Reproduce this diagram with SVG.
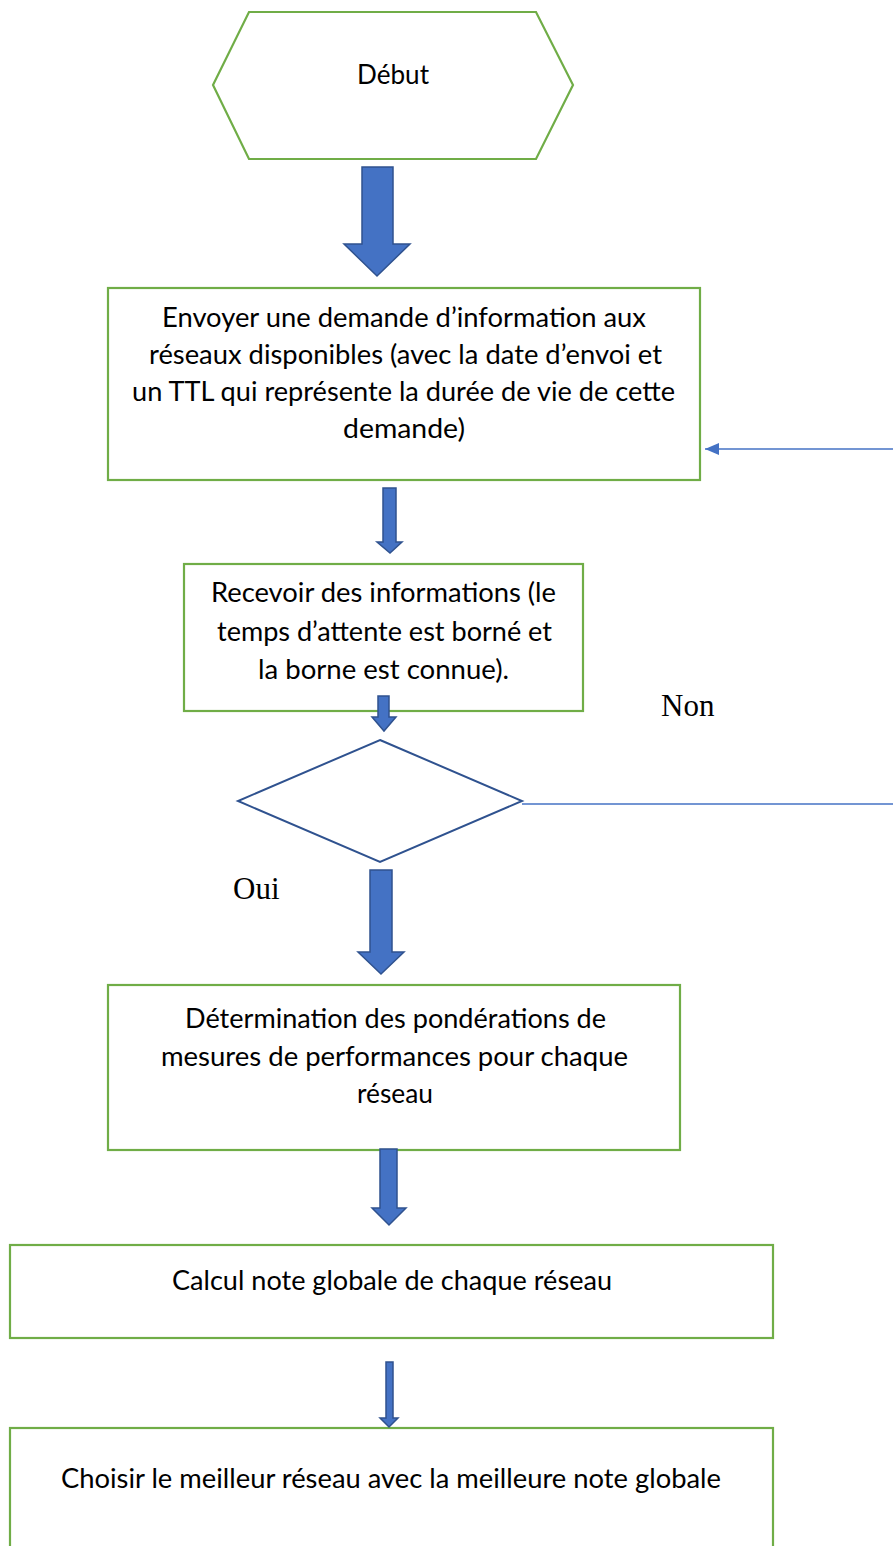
<svg xmlns="http://www.w3.org/2000/svg" width="893" height="1546" viewBox="0 0 893 1546">
<style>
.node{fill:#FFFFFF;stroke:#70AD47;stroke-width:2.2}
.dec{fill:#FFFFFF;stroke:#2F528F;stroke-width:2}
.blk{fill:#4472C4;stroke:#2F528F;stroke-width:1.5;stroke-linejoin:miter}
.lnk{fill:none;stroke:#4472C4;stroke-width:1.5}
.t{font-family:Lato,"Open Sans",sans-serif;font-size:26px;fill:#000000;text-anchor:middle}
.s{font-family:"Liberation Serif","Times New Roman",serif;font-size:31px;fill:#000000}
</style>
<defs>
<marker id="ah" markerUnits="userSpaceOnUse" markerWidth="14" markerHeight="12" refX="14" refY="6" orient="auto">
<path d="M0,0 L14,6 L0,12 Z" fill="#4472C4"/>
</marker>
</defs>
<rect width="893" height="1546" fill="#FFFFFF"/>
<g id="debut">
<polygon class="node" points="249,12 536,12 573,85 536,159 249,159 213,85"/>
<text class="t" x="393" y="84" textLength="72" lengthAdjust="spacingAndGlyphs">Début</text>
</g>
<g id="envoyer">
<rect class="node" x="108" y="288" width="592" height="192"/>
<text class="t" x="404" y="327" textLength="484" lengthAdjust="spacingAndGlyphs">Envoyer une demande d’information aux</text>
<text class="t" x="405.5" y="364" textLength="513" lengthAdjust="spacingAndGlyphs">réseaux disponibles (avec la date d’envoi et</text>
<text class="t" x="403.5" y="401" textLength="543" lengthAdjust="spacingAndGlyphs">un TTL qui représente la durée de vie de cette</text>
<text class="t" x="404" y="438" textLength="122" lengthAdjust="spacingAndGlyphs">demande)</text>
</g>
<g id="recevoir">
<rect class="node" x="184" y="564" width="399" height="147"/>
<text class="t" x="383.5" y="602" textLength="345" lengthAdjust="spacingAndGlyphs">Recevoir des informations (le</text>
<text class="t" x="384.5" y="641" textLength="335" lengthAdjust="spacingAndGlyphs">temps d’attente est borné et</text>
<text class="t" x="383.5" y="679" textLength="251" lengthAdjust="spacingAndGlyphs">la borne est connue).</text>
</g>
<g id="decision">
<polygon class="dec" points="380,740 522,801 380,862 238,801"/>
</g>
<g id="ponderations">
<rect class="node" x="108" y="985" width="572" height="165"/>
<text class="t" x="395.5" y="1028" textLength="421" lengthAdjust="spacingAndGlyphs">Détermination des pondérations de</text>
<text class="t" x="394.5" y="1066" textLength="467" lengthAdjust="spacingAndGlyphs">mesures de performances pour chaque</text>
<text class="t" x="395" y="1103" textLength="76" lengthAdjust="spacingAndGlyphs">réseau</text>
</g>
<g id="calcul">
<rect class="node" x="10" y="1245" width="763" height="93"/>
<text class="t" x="392" y="1290" textLength="440" lengthAdjust="spacingAndGlyphs">Calcul note globale de chaque réseau</text>
</g>
<g id="choisir">
<rect class="node" x="10" y="1428" width="763" height="140"/>
<text class="t" x="391" y="1488" textLength="660" lengthAdjust="spacingAndGlyphs">Choisir le meilleur réseau avec la meilleure note globale</text>
</g>
<g id="connectors">
<polygon class="blk" points="362,167 393,167 393,244 410,244 377,276 344,244 362,244"/>
<polygon class="blk" points="383,488 396,488 396,542 402,542 390,553 377,542 383,542"/>
<polygon class="blk" points="378,696 389,696 389,717 396,717 384,731 372,717 378,717"/>
<polygon class="blk" points="370,870 392,870 392,952 404,952 381,974 358,952 370,952"/>
<polygon class="blk" points="380,1149 397,1149 397,1208 406,1208 389,1225 372,1208 380,1208"/>
<polygon class="blk" points="386,1362 393,1362 393,1418 398,1418 389,1427 380,1418 386,1418"/>
<line class="lnk" x1="893" y1="449" x2="705" y2="449" marker-end="url(#ah)"/>
<line class="lnk" x1="522" y1="804" x2="893" y2="804"/>
<text class="s" x="661" y="716">Non</text>
<text class="s" x="233" y="899">Oui</text>
</g>
</svg>
